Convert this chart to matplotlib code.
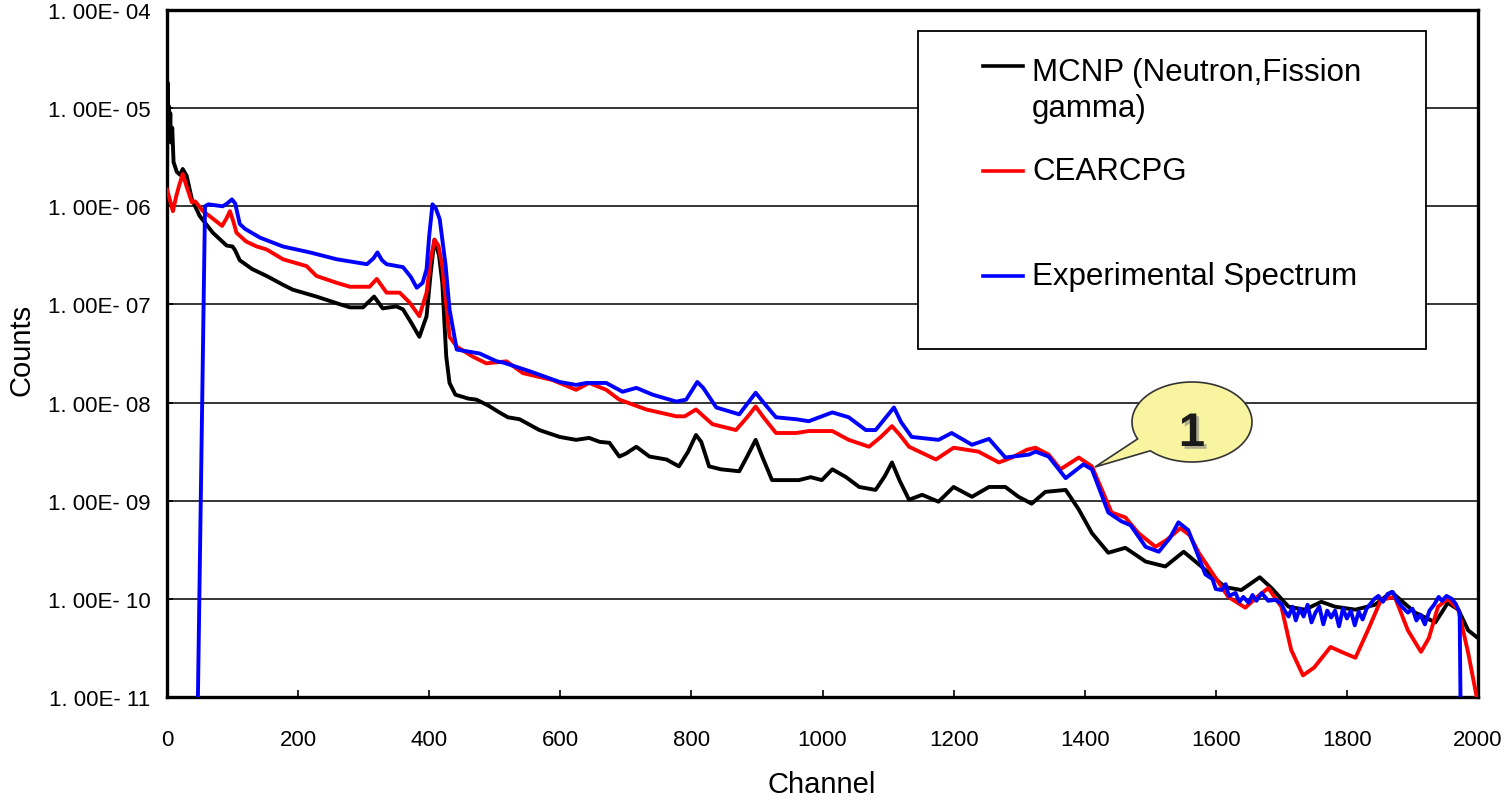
import numpy as np
import matplotlib
matplotlib.use("Agg")
import matplotlib.pyplot as plt
import matplotlib.patheffects as pe
from matplotlib import font_manager
from matplotlib.patches import Polygon, Rectangle
from matplotlib.lines import Line2D
from matplotlib.ticker import FixedLocator, FixedFormatter, NullLocator

# values, as log10(counts)
mcnp_ch = [0, 1, 2, 3, 4, 5, 6, 8, 10, 15, 20, 24, 30, 38, 50, 70, 91, 100, 104, 111,
           130, 152, 177, 192, 228, 260, 279, 299, 316, 329, 350, 360, 372, 385, 396, 402,
           408, 415, 420, 426, 431, 440, 460, 472, 490, 507, 520, 538, 568, 599, 624, 644,
           660, 675, 690, 700, 716, 736, 762, 781, 795, 807, 815, 827, 845, 873, 885, 898,
           908, 923, 964, 982, 999, 1015, 1036, 1056, 1081, 1095, 1106, 1118, 1132, 1152,
           1177, 1200, 1228, 1254, 1279, 1299, 1319, 1340, 1371, 1391, 1411, 1436, 1462,
           1493, 1523, 1551, 1578, 1614, 1639, 1667, 1685, 1711, 1736, 1761, 1782, 1813,
           1843, 1868, 1904, 1935, 1954, 1970, 1985, 2000]
mcnp_log = [-5.75, -4.74, -5.15, -4.98, -5.30, -5.05, -5.35, -5.20, -5.55, -5.65, -5.68,
            -5.62, -5.69, -5.93, -6.10, -6.27, -6.40, -6.41, -6.45, -6.55, -6.64, -6.71,
            -6.80, -6.85, -6.92, -6.99, -7.03, -7.03, -6.92, -7.04, -7.02, -7.05, -7.18,
            -7.33, -7.12, -6.70, -6.34, -6.50, -6.78, -7.53, -7.80, -7.92, -7.96, -7.97,
            -8.03, -8.10, -8.15, -8.17, -8.28, -8.35, -8.38, -8.36, -8.40, -8.41, -8.55,
            -8.52, -8.45, -8.55, -8.58, -8.65, -8.50, -8.33, -8.40, -8.65, -8.68, -8.70,
            -8.55, -8.38, -8.55, -8.79, -8.79, -8.76, -8.79, -8.68, -8.76, -8.86, -8.89,
            -8.75, -8.61, -8.80, -8.99, -8.94, -9.01, -8.86, -8.96, -8.86, -8.86, -8.96,
            -9.03, -8.91, -8.89, -9.09, -9.33, -9.53, -9.48, -9.62, -9.67, -9.52, -9.67,
            -9.88, -9.91, -9.78, -9.89, -10.08, -10.11, -10.03, -10.08, -10.11, -10.06,
            -9.93, -10.14, -10.24, -10.04, -10.11, -10.32, -10.40]

cear_ch = [0, 5, 9, 14, 18, 24, 30, 38, 43, 55, 65, 84, 91, 96, 101, 106, 121, 137, 152,
           177, 213, 228, 259, 279, 309, 320, 335, 355, 370, 385, 396, 402, 408, 414, 420,
           431, 442, 466, 487, 518, 543, 588, 624, 644, 670, 690, 731, 777, 790, 807, 832,
           868, 885, 898, 910, 929, 960, 979, 1015, 1040, 1071, 1089, 1106, 1118, 1132,
           1173, 1200, 1238, 1269, 1289, 1312, 1325, 1345, 1363, 1391, 1411, 1441, 1462,
           1482, 1508, 1525, 1546, 1560, 1574, 1599, 1619, 1645, 1665, 1680, 1700, 1715,
           1733, 1750, 1775, 1795, 1813, 1832, 1852, 1873, 1893, 1913, 1925, 1939, 1954,
           1970, 1985, 1998, 2000]
cear_log = [-5.83, -5.95, -6.05, -5.90, -5.80, -5.67, -5.80, -5.96, -5.95, -6.05, -6.10,
            -6.20, -6.12, -6.05, -6.15, -6.27, -6.36, -6.41, -6.44, -6.54, -6.61, -6.71,
            -6.78, -6.82, -6.82, -6.74, -6.88, -6.88, -6.98, -7.12, -6.88, -6.55, -6.34,
            -6.40, -6.61, -7.33, -7.43, -7.53, -7.60, -7.58, -7.70, -7.77, -7.87, -7.80,
            -7.87, -7.97, -8.07, -8.14, -8.14, -8.07, -8.22, -8.28, -8.15, -8.04, -8.15,
            -8.31, -8.31, -8.29, -8.29, -8.38, -8.45, -8.35, -8.24, -8.33, -8.45, -8.58,
            -8.46, -8.50, -8.61, -8.56, -8.48, -8.46, -8.53, -8.68, -8.56, -8.65, -9.12,
            -9.17, -9.33, -9.47, -9.40, -9.28, -9.35, -9.53, -9.78, -9.98, -10.09, -9.97,
            -9.89, -10.08, -10.52, -10.78, -10.70, -10.49, -10.55, -10.60, -10.32, -10.01,
            -9.98, -10.32, -10.54, -10.40, -10.08, -10.00, -10.11, -10.55, -11.0, -11.1]

exp_ch = [45, 58, 63, 85, 92, 99, 104, 111, 119, 142, 177, 218, 259, 305, 315, 321, 328,
          335, 360, 372, 381, 390, 396, 400, 405, 410, 416, 425, 431, 442, 477, 503, 512,
          553, 599, 624, 640, 670, 695, 716, 741, 777, 792, 809, 818, 838, 873, 898, 910,
          929, 960, 979, 1015, 1040, 1066, 1081, 1109, 1120, 1136, 1177, 1197, 1228, 1254,
          1279, 1315, 1325, 1345, 1371, 1398, 1411, 1436, 1456, 1470, 1493, 1513, 1530,
          1543, 1558, 1584, 1595, 1600, 1609, 1615, 1620, 1630, 1636, 1642, 1650, 1656,
          1662, 1670, 1680, 1691, 1700, 1705, 1711, 1717, 1722, 1728, 1734, 1740, 1746,
          1752, 1758, 1764, 1770, 1776, 1782, 1788, 1794, 1800, 1806, 1812, 1818, 1824,
          1830, 1836, 1842, 1848, 1855, 1862, 1870, 1877, 1884, 1893, 1900, 1906, 1912,
          1919, 1926, 1933, 1940, 1945, 1952, 1960, 1966, 1972, 1974]
exp_log = [-12.0, -6.00, -5.98, -6.00, -5.97, -5.93, -5.97, -6.18, -6.23, -6.32, -6.41,
           -6.47, -6.54, -6.59, -6.53, -6.47, -6.55, -6.59, -6.62, -6.72, -6.83, -6.78,
           -6.64, -6.30, -5.98, -6.02, -6.13, -6.60, -7.05, -7.46, -7.50, -7.58, -7.59,
           -7.68, -7.79, -7.82, -7.80, -7.80, -7.89, -7.85, -7.92, -7.99, -7.97, -7.79,
           -7.85, -8.05, -8.12, -7.90, -8.00, -8.15, -8.17, -8.19, -8.10, -8.15, -8.28,
           -8.28, -8.05, -8.20, -8.35, -8.38, -8.31, -8.43, -8.37, -8.56, -8.53, -8.50,
           -8.55, -8.77, -8.63, -8.68, -9.12, -9.21, -9.25, -9.47, -9.52, -9.38, -9.22,
           -9.30, -9.75, -9.80, -9.90, -9.91, -9.85, -9.97, -9.94, -10.03, -9.98, -10.04,
           -9.96, -10.02, -9.94, -10.02, -10.01, -10.05, -10.12, -10.18, -10.08, -10.22,
           -10.10, -10.18, -10.06, -10.24, -10.14, -10.08, -10.26, -10.12, -10.19, -10.12,
           -10.28, -10.10, -10.20, -10.12, -10.27, -10.13, -10.21, -10.10, -10.05, -10.00,
           -9.97, -10.03, -9.95, -9.93, -10.02, -10.08, -10.14, -10.10, -10.22, -10.16,
           -10.26, -10.12, -10.06, -9.98, -10.02, -9.97, -10.00, -10.05, -10.14, -11.5]

ytick_vals = [1e-4, 1e-5, 1e-6, 1e-7, 1e-8, 1e-9, 1e-10, 1e-11]
ytick_labels = ["1. 00E- 04", "1. 00E- 05", "1. 00E- 06", "1. 00E- 07",
                "1. 00E- 08", "1. 00E- 09", "1. 00E- 10", "1. 00E- 11"]
xtick_vals = [0, 200, 400, 600, 800, 1000, 1200, 1400, 1600, 1800, 2000]

series_labels = ["MCNP (Neutron,Fission\ngamma)", "CEARCPG", "Experimental Spectrum"]

names = {f.name for f in font_manager.fontManager.ttflist}
if "Liberation Sans Narrow" in names:
    leg_font, leg_size = "Liberation Sans Narrow", 27
else:
    leg_font, leg_size = "Liberation Sans", 22.5

plt.rcParams["font.family"] = ["Liberation Sans", "DejaVu Sans"]

fig = plt.figure(figsize=(15.1, 8.03), dpi=100)
ax = fig.add_axes([167 / 1510, 105 / 803, 1311 / 1510, 687 / 803])

ax.plot(mcnp_ch, 10 ** np.array(mcnp_log), color="black", lw=2.8, zorder=3)
ax.plot(cear_ch, 10 ** np.array(cear_log), color="#ff0000", lw=2.8, zorder=4)
ax.plot(exp_ch, 10 ** np.array(exp_log), color="#0000ff", lw=2.8, zorder=5)

ax.set_yscale("log")
ax.set_xlim(0, 2000)
ax.set_ylim(1e-11, 1e-4)
ax.yaxis.set_major_locator(FixedLocator(ytick_vals))
ax.yaxis.set_major_formatter(FixedFormatter(ytick_labels))
ax.yaxis.set_minor_locator(NullLocator())
ax.set_xticks(xtick_vals)
ax.tick_params(axis="y", direction="in", length=4, width=1.2, labelsize=16, pad=12)
ax.tick_params(axis="x", direction="in", length=5, width=1.2, labelsize=16, pad=23)
ax.grid(axis="y", color="black", lw=1.1)
ax.set_axisbelow(True)
for s in ax.spines.values():
    s.set_linewidth(2.4)

fig.text(22 / 1510, 1 - 350 / 803, "Counts", rotation=90, ha="center", va="center", fontsize=21)
fig.text(822 / 1510, 1 - 785 / 803, "Channel", ha="center", va="center", fontsize=21)

# legend box, drawn by hand in axes fractions
def fx(px):
    return (px - 167) / 1311

def fy(py):
    return (698 - py) / 687

ax.add_patch(Rectangle((fx(918), fy(350)), fx(1426) - fx(918), fy(32) - fy(350),
                       transform=ax.transAxes, facecolor="white", edgecolor="black",
                       lw=1.3, zorder=8))
for lab, col, ly, ty in zip(series_labels, ["black", "#ff0000", "#0000ff"],
                            [67, 172, 277], [91, 172, 277]):
    ax.add_line(Line2D([fx(983), fx(1023)], [fy(ly), fy(ly)], transform=ax.transAxes,
                       color=col, lw=2.6, zorder=9))
    ax.text(fx(1032), fy(ty), lab, transform=ax.transAxes, ha="left", va="center",
            fontsize=leg_size, family=[leg_font, "Liberation Sans"], linespacing=1.25,
            zorder=9)

# callout "1"
cx, cy = fx(1192), fy(423)
rx, ry = 60 / 1311, 40 / 687
t = np.radians(np.linspace(226, 565, 120))
pts = list(zip(cx + rx * np.cos(t), cy + ry * np.sin(t)))
pts.append((fx(1095), fy(468)))
ax.add_patch(Polygon(pts, closed=True, transform=ax.transAxes, facecolor="#f8f4a0",
                     edgecolor="#333333", lw=1.2, zorder=10, clip_on=False))
ax.text(cx, fy(435), "1", transform=ax.transAxes, ha="center", va="center",
        fontsize=34, fontweight="bold", color="#1a1a1a", zorder=11,
        path_effects=[pe.SimplePatchShadow(offset=(2, -2), shadow_rgbFace="gray", alpha=0.6),
                      pe.Normal()])

fig.savefig("out.png", dpi=100)
